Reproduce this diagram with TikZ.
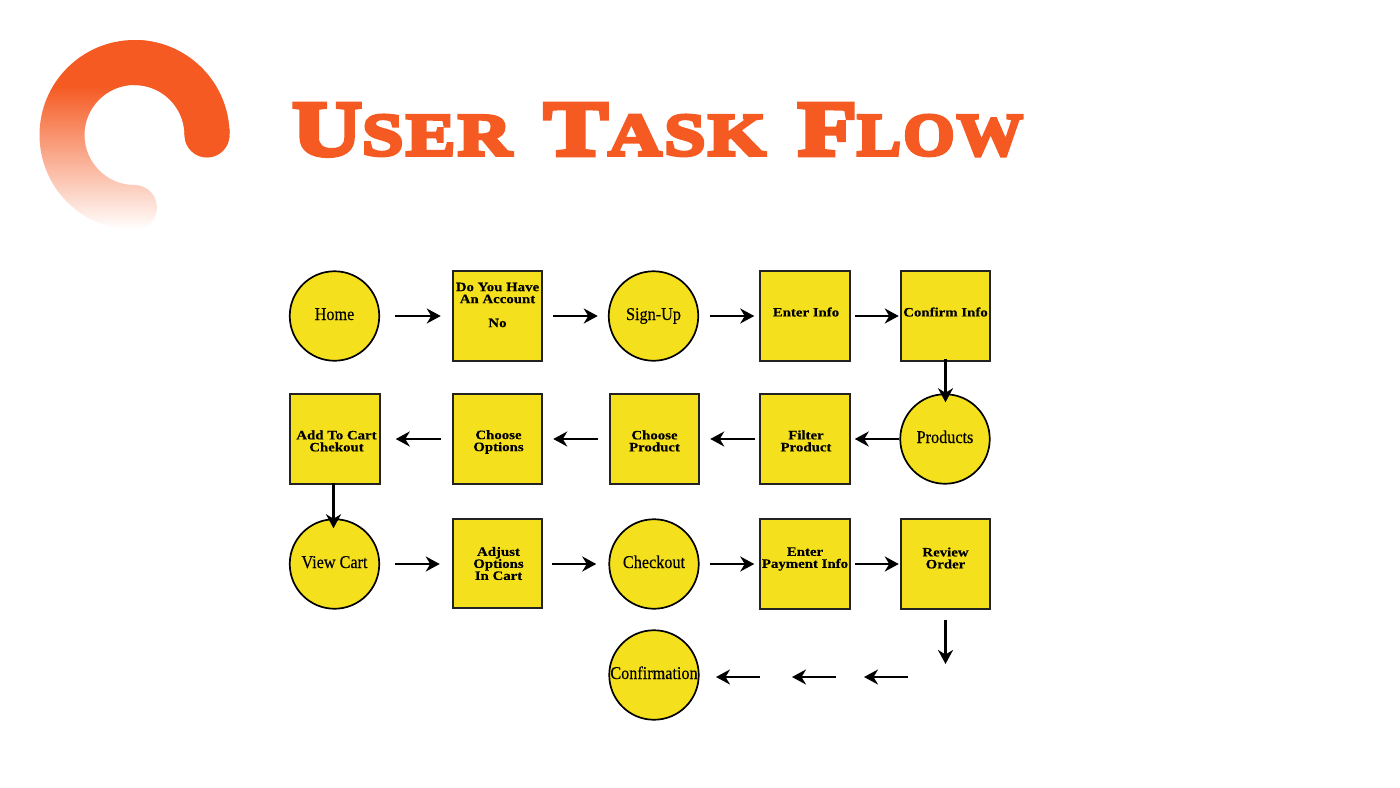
\documentclass[tikz,border=0pt]{standalone}
\usepackage{fontspec}
\usetikzlibrary{arrows.meta}
\setmainfont{Liberation Serif}
\newfontfamily\titlefont[FakeBold=6,FakeStretch=1.24,LetterSpace=4]{Liberation Serif Bold}
\newfontfamily\boxfont[FakeStretch=1.16,FakeBold=0.3]{Liberation Serif Bold}
\newfontfamily\circfont[FakeStretch=0.9,FakeBold=0.25]{Liberation Serif}
\definecolor{logoorange}{HTML}{F55A22}
\definecolor{nodeyellow}{HTML}{F5E01E}
\definecolor{linedark}{HTML}{222222}
\pgfdeclareverticalshading{logofade}{100bp}{color(0bp)=(white); color(25bp)=(white); color(63bp)=(logoorange); color(100bp)=(logoorange)}
\newcommand{\tallcap}[1]{{\fontsize{78}{78}\selectfont #1}}
\newcommand{\lowcap}[1]{{\fontsize{60}{60}\selectfont #1}}
\tikzset{
  x=1pt,y=-1pt,
  sq/.style={draw=linedark,fill=nodeyellow,line width=1.8pt,minimum size=89.5pt,inner sep=0pt,outer sep=0pt,rectangle},
  circ/.style={draw=black,fill=nodeyellow,line width=1.7pt,minimum size=89.5pt,inner sep=0pt,outer sep=0pt,circle,text height=12pt,text depth=4pt,font=\circfont\fontsize{18}{20}\selectfont},
  lab/.style={font=\boxfont\fontsize{12.8}{12}\selectfont,align=center,inner sep=0pt,text=black},
  flow/.style={draw=black,line width=2.6pt,-{Stealth[length=14pt,width=15pt,inset=4.5pt]}},
}
\begin{document}
\begin{tikzpicture}
\useasboundingbox (0,0) rectangle (1400,787);
\fill[white] (0,0) rectangle (1400,787);
% logo
\begin{scope}[x=1pt,y=1pt,shift={(134.5pt,-135pt)}]
\shade[shading=logofade] (95,0) arc[start angle=0,end angle=270,radius=95]
  arc[start angle=-90,end angle=90,radius=22.5]
  arc[start angle=270,end angle=0,radius=50]
  arc[start angle=180,end angle=360,radius=22.5] -- cycle;
\draw[logoorange,line width=45pt,line cap=round] (72.5,0) arc[start angle=0,end angle=90,radius=72.5];
\end{scope}
% title
\node[anchor=base west,inner sep=0pt,text=logoorange,font=\titlefont] (title) at (292,155)
  {\tallcap{U}\lowcap{SER}\hspace{32pt}\tallcap{T}\lowcap{ASK}\hspace{32pt}\tallcap{F}\scalebox{0.89}[1]{\lowcap{LOW}}};
% row 1
\node[circ] (home) at (334.5,316) {Home};
\node[sq,label={[lab,yshift=11pt]center:{Do You Have\\An Account\\[12pt]No}}] (ask) at (497.5,316) {};
\node[circ] (signup) at (653.5,316) {Sign-Up};
\node[sq,label={[lab,yshift=4pt,xshift=1pt]center:Enter Info}] (info) at (805,316) {};
\node[sq,label={[lab,yshift=4pt]center:Confirm Info}] (confirm) at (945.5,316) {};
% row 2
\node[sq,label={[lab,yshift=-2pt,xshift=1.5pt]center:{Add To Cart\\Chekout}}] (add) at (335,439) {};
\node[sq,label={[lab,yshift=-3pt,xshift=1pt]center:{Choose\\Options}}] (options) at (497.5,439) {};
\node[sq,label={[lab,yshift=-2pt]center:{Choose\\Product}}] (product) at (654.5,439) {};
\node[sq,label={[lab,yshift=-2pt,xshift=1pt]center:{Filter\\Product}}] (filter) at (805,439) {};
\node[circ] (products) at (945,439) {Products};
% row 3
\node[circ] (cart) at (334.5,564) {View Cart};
\node[sq,label={[lab,yshift=0pt,xshift=1pt]center:{Adjust\\Options\\In Cart}}] (adjust) at (497.5,563.5) {};
\node[circ] (checkout) at (654,564) {Checkout};
\node[sq,label={[lab,yshift=5pt]center:{Enter\\Payment Info}}] (payment) at (805,564) {};
\node[sq,label={[lab,yshift=6pt]center:{Review\\Order}}] (review) at (945.5,564) {};
% row 4
\node[circ] (done) at (654,675) {Confirmation};
% free ends of the last arrows
\coordinate (d1) at (945.5,620);
\coordinate (d2) at (945.5,664);
\coordinate (l1) at (908,677);
\coordinate (l2) at (864,677);
\coordinate (l3) at (836,677);
\coordinate (l4) at (792,677);
\coordinate (l5) at (760,677);
\coordinate (l6) at (716,677);
% connectors
\draw[flow,shorten <=16pt,shorten >=12pt] (home.east) -- (home.east -| ask.west);
\draw[flow,shorten <=11pt,shorten >=11pt] (ask.east) -- (ask.east -| signup.west);
\draw[flow,shorten <=12pt,shorten >=6pt] (signup.east) -- (signup.east -| info.west);
\draw[flow,shorten <=5pt,shorten >=2pt] (info.east) -- (info.east -| confirm.west);
\draw[flow,shorten <=-2pt,shorten >=-8pt] (confirm.south) -- (confirm.south |- products.north);
\draw[flow,shorten <=1pt,shorten >=5pt] (products.west) -- (products.west -| filter.east);
\draw[flow,shorten <=5pt,shorten >=11pt] (filter.west) -- (filter.west -| product.east);
\draw[flow,shorten <=12pt,shorten >=11pt] (product.west) -- (product.west -| options.east);
\draw[flow,shorten <=12pt,shorten >=16pt] (options.west) -- (options.west -| add.east);
\draw[flow,shorten <=-1pt,shorten >=-9pt,transform canvas={xshift=-1.5pt}] (add.south) -- (add.south |- cart.north);
\draw[flow,shorten <=16pt,shorten >=13pt] (cart.east) -- (cart.east -| adjust.west);
\draw[flow,shorten <=10pt,shorten >=13pt] (adjust.east |- checkout.west) -- (checkout.west);
\draw[flow,shorten <=11pt,shorten >=6pt] (checkout.east) -- (checkout.east -| payment.west);
\draw[flow,shorten <=5pt,shorten >=2pt] (payment.east) -- (payment.east -| review.west);
\draw[flow] (d1) -- (d2);
\draw[flow] (l1) -- (l2);
\draw[flow] (l3) -- (l4);
\draw[flow] (l5) -- (l6);
\end{tikzpicture}
\end{document}
